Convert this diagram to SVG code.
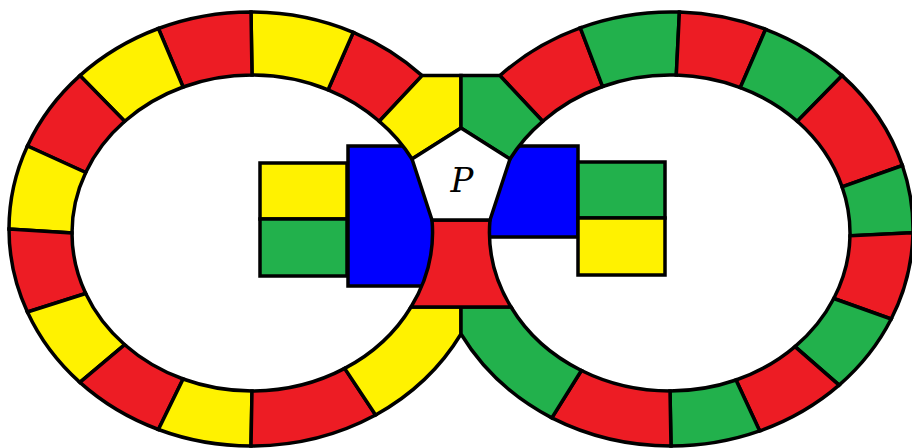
<svg xmlns="http://www.w3.org/2000/svg" width="912" height="448" viewBox="0 0 912 448">
<style>
path,rect,polygon{stroke:#000;stroke-width:3.5;stroke-linejoin:miter}
.r{fill:#ED1C24}.y{fill:#FFF200}.g{fill:#22B14C}.b{fill:#0000FF}.w{fill:#fff}
.lbl{font-family:"DejaVu Serif","Liberation Serif",serif;font-style:italic;font-size:34px;fill:#000}
</style>
<defs>
<clipPath id="clipL"><ellipse cx="252" cy="233" rx="180" ry="158"/></clipPath>
<clipPath id="clipR"><ellipse cx="670" cy="233" rx="180" ry="158"/></clipPath>
</defs>
<rect x="0" y="0" width="912" height="448" fill="#fff" style="stroke:none"/>
<g id="left-ring">
<path class="r" d="M422.1,75.6 A242,217 0 0 0 353.3,32.3 L328.1,89.8 A180,158 0 0 1 379.3,121.3 Z"/>
<path class="y" d="M353.3,32.3 A242,217 0 0 0 251,12 L252,75 A180,158 0 0 1 328.1,89.8 Z"/>
<path class="r" d="M251,12 A242,217 0 0 0 158.4,28.5 L183.1,87 A180,158 0 0 1 252,75 Z"/>
<path class="y" d="M158.4,28.5 A242,217 0 0 0 79.9,75.6 L124.7,121.3 A180,158 0 0 1 183.1,87 Z"/>
<path class="r" d="M79.9,75.6 A242,217 0 0 0 27.4,146 L85.7,172.5 A180,158 0 0 1 124.7,121.3 Z"/>
<path class="y" d="M27.4,146 A242,217 0 0 0 9,229 L72,233 A180,158 0 0 1 85.7,172.5 Z"/>
<path class="r" d="M9,229 A242,217 0 0 0 27.4,312 L85.7,293.5 A180,158 0 0 1 72,233 Z"/>
<path class="y" d="M27.4,312 A242,217 0 0 0 79.9,382.4 L124.7,344.7 A180,158 0 0 1 85.7,293.5 Z"/>
<path class="r" d="M79.9,382.4 A242,217 0 0 0 158.4,429.5 L183.1,379 A180,158 0 0 1 124.7,344.7 Z"/>
<path class="y" d="M158.4,429.5 A242,217 0 0 0 251,446 L252,391 A180,158 0 0 1 183.1,379 Z"/>
<path class="r" d="M251,446 A242,217 0 0 0 375.6,415 L344.7,368.4 A180,158 0 0 1 252,391 Z"/>
<path class="y" d="M375.6,415 A242,217 0 0 0 461,334 L461,307 L411,307 A180,158 0 0 1 344.7,368.4 Z"/>
</g>
<g id="right-ring">
<path class="r" d="M580.3,27.8 A242,217 0 0 0 499.9,75.6 L542.7,121.3 A180,158 0 0 1 602.6,86.5 Z"/>
<path class="g" d="M679.4,12.1 A242,217 0 0 0 580.3,27.8 L602.6,86.5 A180,158 0 0 1 676.3,75.1 Z"/>
<path class="r" d="M765.6,29.3 A242,217 0 0 0 679.4,12.1 L676.3,75.1 A180,158 0 0 1 740.3,87.6 Z"/>
<path class="g" d="M842.1,75.6 A242,217 0 0 0 765.6,29.3 L740.3,87.6 A180,158 0 0 1 797.3,121.3 Z"/>
<path class="r" d="M902.4,165.5 A242,217 0 0 0 842.1,75.6 L797.3,121.3 A180,158 0 0 1 842.1,186.8 Z"/>
<path class="g" d="M913,232.8 A242,217 0 0 0 902.4,165.5 L842.1,186.8 A180,158 0 0 1 850,235.8 Z"/>
<path class="r" d="M891.2,319 A242,217 0 0 0 913,232.8 L850,235.8 A180,158 0 0 1 833.8,298.5 Z"/>
<path class="g" d="M839.1,385.1 A242,217 0 0 0 891.2,319 L833.8,298.5 A180,158 0 0 1 795,346.6 Z"/>
<path class="r" d="M759.7,430.9 A242,217 0 0 0 839.1,385.1 L795,346.6 A180,158 0 0 1 736,380 Z"/>
<path class="g" d="M671,446 A242,217 0 0 0 759.7,430.9 L736,380 A180,158 0 0 1 670,391 Z"/>
<path class="r" d="M551.8,417.9 A242,217 0 0 0 671,446 L670,391 A180,158 0 0 1 581.4,370.5 Z"/>
<path class="g" d="M551.8,417.9 A242,217 0 0 1 461,334 L461,307 L511,307 A180,158 0 0 0 581.4,370.5 Z"/>
</g>
<g id="left-home">
<rect class="b" x="348" y="146" width="100" height="140" clip-path="url(#clipL)"/>
<rect class="y" x="260" y="163" width="87" height="56"/>
<rect class="g" x="260" y="219" width="87" height="57"/>
</g>
<g id="right-home">
<rect class="b" x="470" y="146" width="108" height="91" clip-path="url(#clipR)"/>
<rect class="g" x="578" y="162" width="87" height="56"/>
<rect class="y" x="578" y="218" width="87" height="57"/>
</g>
<g id="center">
<path class="y" d="M422.1,75.6 L461,75.6 L461,128 L412,159 A180,158 0 0 0 379.3,121.3 Z"/>
<path class="g" d="M499.9,75.6 L461,75.6 L461,128 L510,159 A180,158 0 0 1 542.7,121.3 Z"/>
<path class="r" d="M432,220 L490,220 A180,158 0 0 0 511,307 L411,307 A180,158 0 0 0 432,220 Z"/>
</g>
<g id="pentagon">
<path class="w" d="M461,128 L412,159 L432,220 L490,220 L510,159 Z"/>
<text class="lbl" x="462" y="192" text-anchor="middle">P</text>
</g>
</svg>
